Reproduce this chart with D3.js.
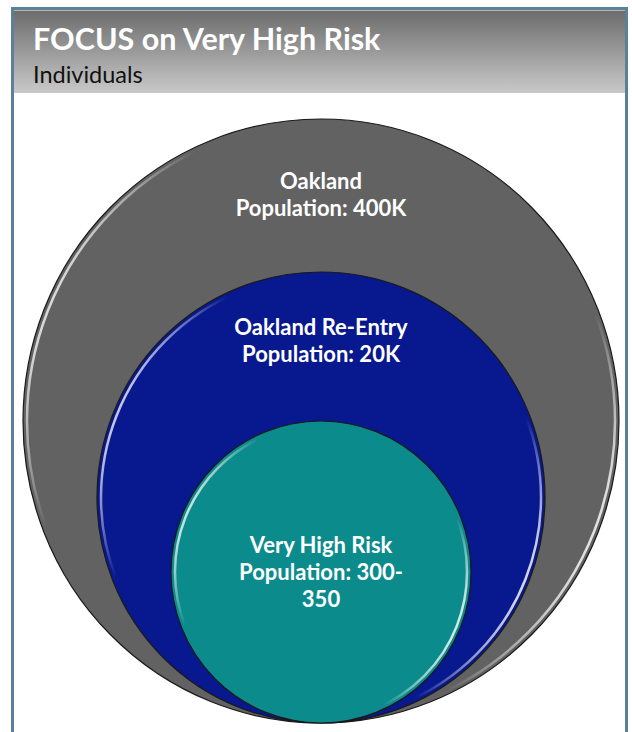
<!DOCTYPE html>
<html>
<head>
<meta charset="utf-8">
<script src="https://cdn.jsdelivr.net/npm/d3@7/dist/d3.min.js"></script>
<style>
  html, body { margin: 0; padding: 0; background: #ffffff; }
  svg { display: block; }
</style>
</head>
<body>
<div id="chart"></div>
<script>
// ---- data ----
const titleText = "FOCUS on Very High Risk";
const subtitleText = "Individuals";
const categories = ["Oakland", "Oakland Re-Entry", "Very High Risk"];
const populations = ["400K", "20K", "300-350"];
const labelLines = [
  ["Oakland", "Population: 400K"],
  ["Oakland Re-Entry", "Population: 20K"],
  ["Very High Risk", "Population: 300-", "350"]
];

// ---- layout ----
const W = 632, H = 732;
const baseY = 723;      // common bottom tangent point
const cxAll = 321;
const rxScale = d3.scaleOrdinal().domain(categories).range([298, 224, 150]);
const ryScale = d3.scaleOrdinal().domain(categories).range([302, 225.5, 151]);
const fillScale = d3.scaleOrdinal().domain(categories).range(["#626262", "#08188f", "#0c8b8c"]);
const labelTop = d3.scaleOrdinal().domain(categories).range([189, 335, 553]);
const lineGap = 27;

const svg = d3.select("#chart").append("svg")
  .attr("width", W).attr("height", H);

const defs = svg.append("defs");
const hg = defs.append("linearGradient").attr("id", "hdr")
  .attr("x1", 0).attr("y1", 0).attr("x2", 0).attr("y2", 1);
hg.append("stop").attr("offset", 0).attr("stop-color", "#6b6b6b");
hg.append("stop").attr("offset", 1).attr("stop-color", "#c9c9c9");

const rim = defs.append("linearGradient").attr("id", "rim")
  .attr("x1", 0).attr("y1", 0.3).attr("x2", 1).attr("y2", 0.7);
[[0, 0.0], [0.02, 0.85], [0.16, 0.0], [0.84, 0.0], [0.97, 0.85], [1, 0.2]].forEach(([o, a]) => {
  rim.append("stop").attr("offset", o).attr("stop-color", "#ffffff").attr("stop-opacity", a);
});

// frame
svg.append("rect")
  .attr("x", 12.5).attr("y", 8.5).attr("width", 614).attr("height", 760)
  .attr("fill", "#ffffff").attr("stroke", "#5a8196").attr("stroke-width", 3);

// header
svg.append("rect")
  .attr("x", 14).attr("y", 10).attr("width", 611).attr("height", 83)
  .attr("fill", "url(#hdr)");
svg.append("line")
  .attr("x1", 14).attr("x2", 625).attr("y1", 10.5).attr("y2", 10.5)
  .attr("stroke", "#e8e8e8").attr("stroke-width", 1).attr("opacity", 0.6);

svg.append("text")
  .attr("x", 33).attr("y", 50)
  .attr("font-family", "Lato, 'Open Sans', sans-serif")
  .attr("font-weight", 700).attr("font-size", 30.5)
  .attr("fill", "#ffffff")
  .text(titleText);

svg.append("text")
  .attr("x", 33).attr("y", 83)
  .attr("font-family", "Lato, 'Open Sans', sans-serif")
  .attr("font-weight", 400).attr("font-size", 23.5)
  .attr("fill", "#111111")
  .text(subtitleText);

// circles
const g = svg.append("g");
const groups = g.selectAll("g.circ").data(categories).enter().append("g").attr("class", "circ");

groups.append("ellipse")
  .attr("cx", cxAll)
  .attr("cy", d => baseY - ryScale(d))
  .attr("rx", d => rxScale(d))
  .attr("ry", d => ryScale(d))
  .attr("fill", d => fillScale(d))
  .attr("stroke", "#1a1a1a").attr("stroke-width", 1.2);

groups.append("ellipse")
  .attr("cx", cxAll)
  .attr("cy", d => baseY - ryScale(d))
  .attr("rx", d => rxScale(d) - 4)
  .attr("ry", d => ryScale(d) - 4)
  .attr("fill", "none")
  .attr("stroke", "url(#rim)").attr("stroke-width", 2.5);

// labels
groups.each(function(d, i) {
  const t = d3.select(this).append("text")
    .attr("text-anchor", "middle")
    .attr("font-family", "Lato, 'Open Sans', sans-serif")
    .attr("font-weight", 700).attr("font-size", 22)
    .attr("fill", "#ffffff");
  labelLines[i].forEach((ln, k) => {
    t.append("tspan").attr("x", cxAll).attr("y", labelTop(d) + k * lineGap).text(ln);
  });
});
</script>
</body>
</html>
